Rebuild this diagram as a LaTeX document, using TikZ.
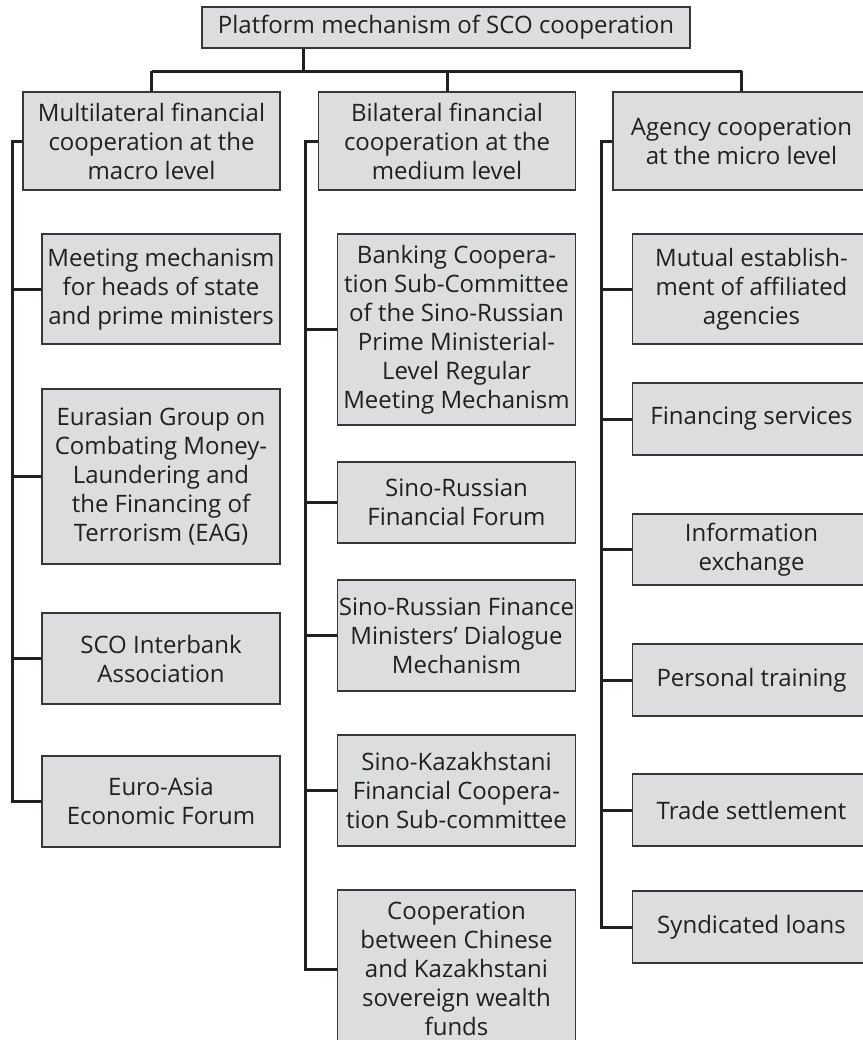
\documentclass[tikz,border=0pt]{standalone}
\usepackage{fontspec}
\setmainfont{Open Sans}

\definecolor{boxfill}{RGB}{220,221,223}
\definecolor{boxline}{RGB}{55,55,55}
\definecolor{linkline}{RGB}{35,31,32}

\begin{document}
\begin{tikzpicture}[x=0.5pt,y=-0.5pt]
    \tikzstyle{box}=[draw=boxline,fill=boxfill,line width=0.65pt,align=center,inner sep=0pt,text=linkline,font=\fontsize{12}{14.5}\selectfont]
    \tikzstyle{head box}=[box,minimum width=128.5pt,minimum height=49pt]
    \tikzstyle{item box}=[box,minimum width=119pt]
    \tikzstyle{link}=[draw=linkline,line width=1.5pt]

    \useasboundingbox (0,0) rectangle (863,1040);
    \clip (0,0) rectangle (863,1040);

    % Draw the top node
    \node[box,minimum width=244pt,minimum height=20.5pt] (top) at (446,27.5) {Platform mechanism of SCO cooperation};

    % Draw the three level nodes
    \foreach \name/\x/\txt in {L/151.5/{Multilateral financial\\cooperation at the\\macro level},
                               M/447/{Bilateral financial\\cooperation at the\\medium level},
                               R/741.5/{Agency cooperation\\at the micro level}}
        \node[head box] (\name) at (\x,141) {\txt};

    % Draw the items of the macro level
    \foreach \name/\y/\h/\txt in {L1/289/55/{Meeting mechanism\\for heads of state\\and prime ministers},
                                  L2/476.5/87.5/{Eurasian Group on\\Combating Money-\\Laundering and\\the Financing of\\Terrorism (EAG)},
                                  L3/658.5/45.5/{SCO Interbank\\Association},
                                  L4/801.5/45.5/{Euro-Asia\\Economic Forum}}
        \node[item box,minimum height=\h pt] (\name) at (161,\y) {\txt};

    % Draw the items of the medium level
    \foreach \name/\y/\h/\txt in {M1/329.5/95.5/{Banking Coopera-\\tion Sub-Committee\\of the Sino-Russian\\Prime Ministerial-\\Level Regular\\Meeting Mechanism},
                                  M2/502.5/40.5/{Sino-Russian\\Financial Forum},
                                  M3/635.5/55.5/{Sino-Russian Finance\\Ministers’ Dialogue\\Mechanism},
                                  M4/790.5/55.5/{Sino-Kazakhstani\\Financial Coopera-\\tion Sub-committee},
                                  M5/969/79/{Cooperation\\between Chinese\\and Kazakhstani\\sovereign wealth\\funds}}
        \node[item box,minimum height=\h pt] (\name) at (456.5,\y) {\txt};

    % Draw the items of the micro level
    \foreach \name/\y/\h/\txt in {R1/289/55/{Mutual establish-\\ment of affiliated\\agencies},
                                  R2/419/36/{Financing services},
                                  R3/549.5/35.5/{Information\\exchange},
                                  R4/680/36/{Personal training},
                                  R5/810/36/{Trade settlement},
                                  R6/927/36/{Syndicated loans}}
        \node[item box,minimum height=\h pt] (\name) at (751.5,\y) {\txt};

    % Connect the top node with the three levels
    \coordinate (drop) at (303,71);
    \draw[link] (top.south -| drop) -- (drop);
    \draw[link] (L.north |- drop) -- (R.north |- drop);
    \foreach \name in {L,M,R}
        \draw[link] (\name.north) -- (\name.north |- drop);

    % Trunk lines on the left of each column
    \coordinate (Lt) at (12,0);
    \coordinate (Mt) at (305,0);
    \coordinate (Rt) at (601,0);
    \draw[link] (L.west) -| (Lt |- L4.west) -- (L4.west);
    \draw[link] (M.west) -| (Mt |- M5.west) -- (M5.west);
    \draw[link] (R.west) -| (Rt |- R6.west) -- (R6.west);

    % Connect the items with their trunk
    \foreach \source in {1,...,3}
        \draw[link] (L\source.west) -- (Lt |- L\source.west);
    \foreach \source in {1,...,4}
        \draw[link] (M\source.west) -- (Mt |- M\source.west);
    \foreach \source in {1,...,5}
        \draw[link] (R\source.west) -- (Rt |- R\source.west);
\end{tikzpicture}
\end{document}
